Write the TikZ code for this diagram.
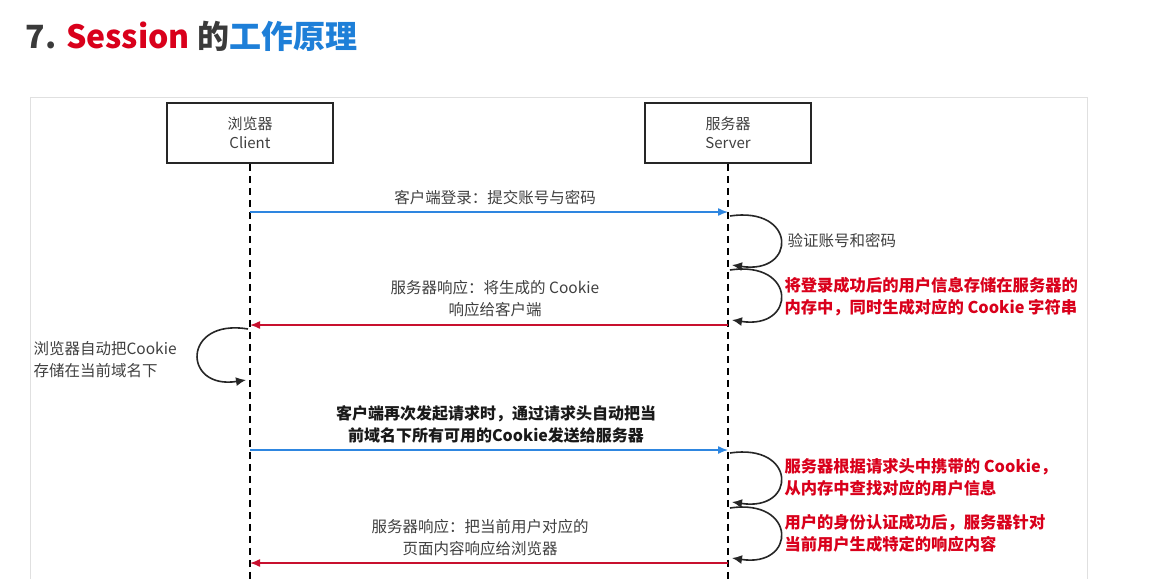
\documentclass[tikz,border=0pt]{standalone}
\usepackage{fontspec}
\setmainfont{Noto Sans CJK SC}
\usetikzlibrary{arrows.meta}
\definecolor{tgray}{HTML}{3A3A3A}
\definecolor{tred}{HTML}{D9001B}
\definecolor{tblue}{HTML}{1E7FD8}
\definecolor{ablue}{HTML}{2E86E0}
\definecolor{ared}{HTML}{C8102E}
\tikzset{
  x=1pt,y=-1pt,
  actor/.style={draw=black!85,line width=1.6pt,minimum width=166pt,minimum height=60pt,align=center,font=\fontsize{15}{19}\selectfont,text=black!75},
  life/.style={dashed,line width=1.3pt,dash pattern=on 7pt off 5pt},
  msgb/.style={ablue,line width=1.4pt,-{Latex[length=10pt,width=8pt]}},
  msgr/.style={ared,line width=1.4pt,-{Latex[length=10pt,width=8pt]}},
  loop/.style={line width=1.6pt,black!85,-{Latex[length=10pt,width=9pt]}},
  lbl/.style={font=\fontsize{15.5}{22}\selectfont,text=black!75,align=center},
  rlbl/.style={font=\bfseries\fontsize{16.3}{22}\selectfont,text=tred,align=left,anchor=west},
}
\begin{document}
\begin{tikzpicture}
\useasboundingbox[fill=white] (0,0) rectangle (1175,579);
\draw[black!12,line width=1pt] (30,579) -- (30,97) -- (1087,97) -- (1087,579);
\node[anchor=west,font=\bfseries\fontsize{32}{36}\selectfont] (title) at (22,36) {\textcolor{tgray}{7.} \textcolor{tred}{Session} \textcolor{tgray}{的}\textcolor{tblue}{工作原理}};
\node[actor] (c) at (250,133) {浏览器\\Client};
\node[actor] (s) at (728,133) {服务器\\Server};
\coordinate (cb) at (250,579); \coordinate (sb) at (728,579);
\draw[life] (c.south) -- (cb);
\draw[life] (s.south) -- (sb);
% 1
\coordinate (c1) at (250,212); \coordinate (s1) at (728,212);
\draw[msgb] (c1) -- (s1);
\node[lbl] (l1) at (495,198) {客户端登录：提交账号与密码};
% 2
\coordinate (a2) at (730,216); \coordinate (b2) at (732,265);
\draw[loop] (a2) .. controls (797,206) and (797,275) .. (b2);
\node[lbl,anchor=west] (l2) at (784,241) {验证账号和密码};
% 3
\coordinate (a3) at (730,270); \coordinate (b3) at (732,320);
\draw[loop] (a3) .. controls (797,260) and (797,330) .. (b3);
\node[rlbl] (l3) at (781,297) {将登录成功后的用户信息存储在服务器的\\内存中，同时生成对应的 Cookie 字符串};
% 4
\coordinate (s4) at (728,325); \coordinate (c4) at (250,325);
\draw[msgr] (s4) -- (c4);
\node[lbl] (l4) at (495,299) {服务器响应：将生成的 Cookie\\响应给客户端};
% 5
\coordinate (a5) at (248,329); \coordinate (b5) at (246,380);
\draw[loop] (a5) .. controls (182,318) and (182,390) .. (b5);
\node[lbl,align=left,anchor=west] (l5) at (30,360) {浏览器自动把Cookie\\存储在当前域名下};
% 6
\coordinate (c6) at (250,450); \coordinate (s6) at (728,450);
\draw[msgb] (c6) -- (s6);
\node[lbl,font=\bfseries\fontsize{16}{22}\selectfont,text=black!90] (l6) at (496,424) {客户端再次发起请求时，通过请求头自动把当\\前域名下所有可用的Cookie发送给服务器};
% 7
\coordinate (a7) at (730,453); \coordinate (b7) at (732,502);
\draw[loop] (a7) .. controls (797,443) and (797,512) .. (b7);
\node[rlbl] (l7) at (781,477) {服务器根据请求头中携带的 Cookie，\\从内存中查找对应的用户信息};
% 8
\coordinate (a8) at (730,508); \coordinate (b8) at (732,558);
\draw[loop] (a8) .. controls (797,498) and (797,568) .. (b8);
\node[rlbl] (l8) at (781,533) {用户的身份认证成功后，服务器针对\\当前用户生成特定的响应内容};
% 9
\coordinate (s9) at (728,563); \coordinate (c9) at (250,563);
\draw[msgr] (s9) -- (c9);
\node[lbl] (l9) at (480,538) {服务器响应：把当前用户对应的\\页面内容响应给浏览器};
\end{tikzpicture}
\end{document}
